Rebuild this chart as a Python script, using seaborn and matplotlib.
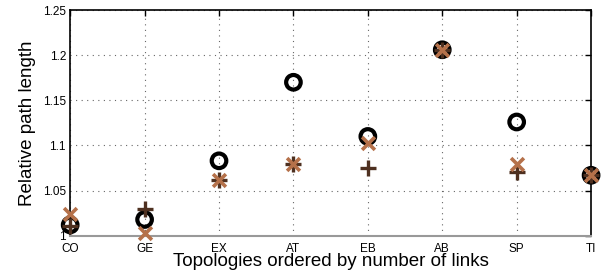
import pandas as pd
import seaborn as sns
import matplotlib.pyplot as plt

# Topologies and the three series
topologies = ["CO", "GE", "EX", "AT", "EB", "AB", "SP", "TI"]
circle_vals = [1.012, 1.018, 1.083, 1.170, 1.110, 1.206, 1.126, 1.067]
plus_vals = [1.011, 1.030, 1.062, 1.079, 1.075, 1.206, 1.071, 1.067]
cross_vals = [1.024, 1.003, 1.062, 1.079, 1.103, 1.206, 1.079, 1.067]
y_ticks = [1, 1.05, 1.1, 1.15, 1.2, 1.25]

df = pd.DataFrame({"topo": topologies, "circle": circle_vals,
                   "plus": plus_vals, "cross": cross_vals})

sns.set_style("white")
plt.rcParams["font.family"] = ["Liberation Sans", "DejaVu Sans"]
plt.rcParams["text.color"] = "black"
plt.rcParams["axes.labelcolor"] = "black"
plt.rcParams["xtick.color"] = "black"
plt.rcParams["ytick.color"] = "black"

fig, ax = plt.subplots(figsize=(6.05, 2.79), dpi=100)

sns.scatterplot(data=df, x="topo", y="circle", marker="o", s=110,
                facecolor="none", edgecolor="black", linewidth=3,
                ax=ax, zorder=3, clip_on=False)
sns.scatterplot(data=df, x="topo", y="plus", marker="+", s=130,
                color="#4e3020", linewidth=2.4, ax=ax, zorder=4, clip_on=False)
sns.scatterplot(data=df, x="topo", y="cross", marker="x", s=85,
                color="#b5714a", linewidth=2.6, ax=ax, zorder=5, clip_on=False)

ax.set_xlim(0, len(topologies) - 1)
ax.set_ylim(1, 1.25)
ax.set_yticks(y_ticks)
ax.set_yticklabels(["1", "1.05", "1.1", "1.15", "1.2", "1.25"])
ax.set_xticks(range(len(topologies)))
ax.set_xticklabels(topologies)

ax.grid(True, linestyle=(0, (1, 4)), color="#666666", linewidth=0.8)
ax.tick_params(axis="both", direction="in", length=4, labelsize=8.5,
               top=True, right=True, width=1)
ax.tick_params(axis="x", pad=5)
ax.tick_params(axis="y", pad=3)
for side in ["left", "right", "top"]:
    ax.spines[side].set_color("black")
    ax.spines[side].set_linewidth(1.2)
ax.spines["bottom"].set_color("#999999")
ax.spines["bottom"].set_linewidth(1.5)

ax.set_xlabel("Topologies ordered by number of links", fontsize=13.5, labelpad=-1)
ax.set_ylabel("Relative path length", fontsize=13.5, labelpad=5)

fig.subplots_adjust(left=0.116, right=0.977, top=0.964, bottom=0.155)
fig.savefig("out.png", dpi=100)
